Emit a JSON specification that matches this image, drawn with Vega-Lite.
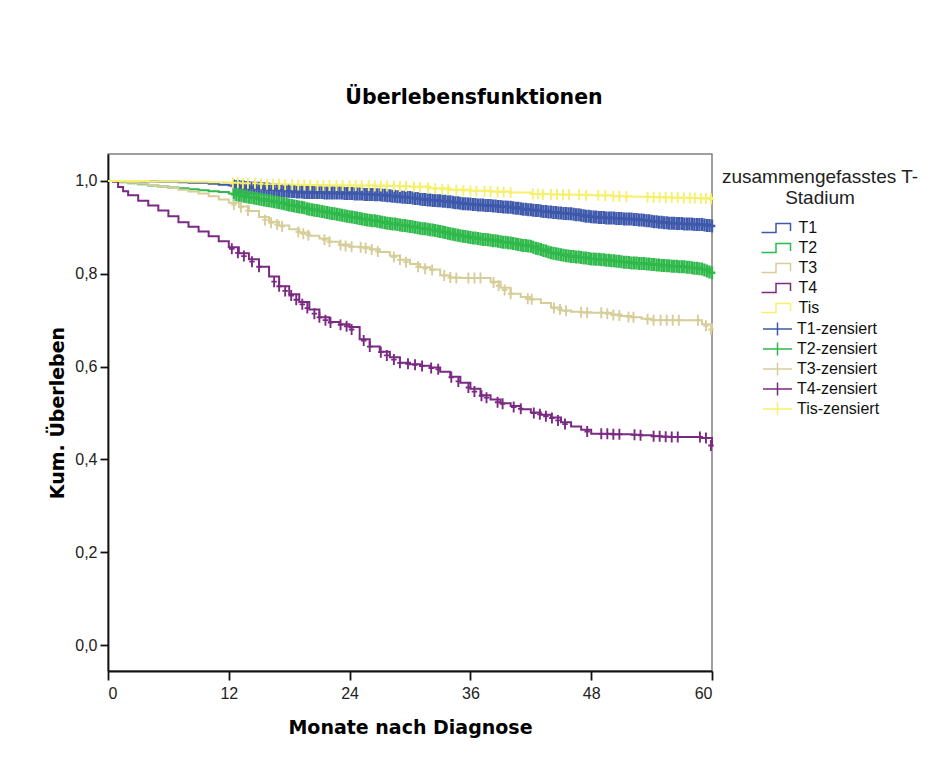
{
"$schema": "https://vega.github.io/schema/vega-lite/v6.json",
"width": 604,
"height": 517,
"autosize": {"type": "none"},
"padding": {"left": 108, "top": 154, "right": 224, "bottom": 89},
"background": "white",
"title": {"text": "Überlebensfunktionen", "font": "DejaVu Sans", "fontWeight": "bold", "fontSize": 20.5, "color": "black", "anchor": "middle", "frame": "group", "dx": 64, "offset": 30, "baseline": "alphabetic"},
"datasets": {
"curves": [
{"g":"T1","t":0,"v":1.000},{"g":"T1","t":1,"v":1.000},{"g":"T1","t":2,"v":0.999},{"g":"T1","t":3,"v":0.999},{"g":"T1","t":4,"v":0.999},{"g":"T1","t":5,"v":0.998},{"g":"T1","t":6,"v":0.998},{"g":"T1","t":7,"v":0.997},{"g":"T1","t":8,"v":0.996},{"g":"T1","t":9,"v":0.996},{"g":"T1","t":10,"v":0.994},{"g":"T1","t":11,"v":0.992},{"g":"T1","t":12,"v":0.990},{"g":"T1","t":13,"v":0.988},{"g":"T1","t":14,"v":0.986},{"g":"T1","t":15,"v":0.984},{"g":"T1","t":16,"v":0.982},{"g":"T1","t":17,"v":0.980},{"g":"T1","t":18,"v":0.978},{"g":"T1","t":19,"v":0.976},{"g":"T1","t":20,"v":0.975},{"g":"T1","t":21,"v":0.975},{"g":"T1","t":22,"v":0.974},{"g":"T1","t":23,"v":0.974},{"g":"T1","t":24,"v":0.973},{"g":"T1","t":25,"v":0.972},{"g":"T1","t":26,"v":0.971},{"g":"T1","t":27,"v":0.970},{"g":"T1","t":28,"v":0.968},{"g":"T1","t":29,"v":0.966},{"g":"T1","t":30,"v":0.964},{"g":"T1","t":31,"v":0.961},{"g":"T1","t":32,"v":0.959},{"g":"T1","t":33,"v":0.957},{"g":"T1","t":34,"v":0.955},{"g":"T1","t":35,"v":0.952},{"g":"T1","t":36,"v":0.950},{"g":"T1","t":37,"v":0.948},{"g":"T1","t":38,"v":0.947},{"g":"T1","t":39,"v":0.945},{"g":"T1","t":40,"v":0.943},{"g":"T1","t":41,"v":0.940},{"g":"T1","t":42,"v":0.938},{"g":"T1","t":43,"v":0.935},{"g":"T1","t":44,"v":0.933},{"g":"T1","t":45,"v":0.931},{"g":"T1","t":46,"v":0.929},{"g":"T1","t":47,"v":0.926},{"g":"T1","t":48,"v":0.923},{"g":"T1","t":49,"v":0.921},{"g":"T1","t":50,"v":0.920},{"g":"T1","t":51,"v":0.919},{"g":"T1","t":52,"v":0.918},{"g":"T1","t":53,"v":0.916},{"g":"T1","t":54,"v":0.913},{"g":"T1","t":55,"v":0.911},{"g":"T1","t":56,"v":0.909},{"g":"T1","t":57,"v":0.908},{"g":"T1","t":58,"v":0.907},{"g":"T1","t":59,"v":0.906},{"g":"T1","t":60,"v":0.903},
{"g":"T2","t":0,"v":1.000},{"g":"T2","t":1,"v":0.997},{"g":"T2","t":2,"v":0.995},{"g":"T2","t":3,"v":0.993},{"g":"T2","t":4,"v":0.990},{"g":"T2","t":5,"v":0.988},{"g":"T2","t":6,"v":0.986},{"g":"T2","t":7,"v":0.984},{"g":"T2","t":8,"v":0.982},{"g":"T2","t":9,"v":0.980},{"g":"T2","t":10,"v":0.978},{"g":"T2","t":11,"v":0.976},{"g":"T2","t":12,"v":0.973},{"g":"T2","t":13,"v":0.969},{"g":"T2","t":14,"v":0.965},{"g":"T2","t":15,"v":0.961},{"g":"T2","t":16,"v":0.957},{"g":"T2","t":17,"v":0.953},{"g":"T2","t":18,"v":0.948},{"g":"T2","t":19,"v":0.944},{"g":"T2","t":20,"v":0.939},{"g":"T2","t":21,"v":0.935},{"g":"T2","t":22,"v":0.931},{"g":"T2","t":23,"v":0.927},{"g":"T2","t":24,"v":0.923},{"g":"T2","t":25,"v":0.919},{"g":"T2","t":26,"v":0.915},{"g":"T2","t":27,"v":0.912},{"g":"T2","t":28,"v":0.908},{"g":"T2","t":29,"v":0.905},{"g":"T2","t":30,"v":0.902},{"g":"T2","t":31,"v":0.898},{"g":"T2","t":32,"v":0.895},{"g":"T2","t":33,"v":0.891},{"g":"T2","t":34,"v":0.886},{"g":"T2","t":35,"v":0.882},{"g":"T2","t":36,"v":0.878},{"g":"T2","t":37,"v":0.875},{"g":"T2","t":38,"v":0.872},{"g":"T2","t":39,"v":0.869},{"g":"T2","t":40,"v":0.866},{"g":"T2","t":41,"v":0.862},{"g":"T2","t":42,"v":0.859},{"g":"T2","t":43,"v":0.852},{"g":"T2","t":44,"v":0.845},{"g":"T2","t":45,"v":0.841},{"g":"T2","t":46,"v":0.837},{"g":"T2","t":47,"v":0.835},{"g":"T2","t":48,"v":0.832},{"g":"T2","t":49,"v":0.830},{"g":"T2","t":50,"v":0.828},{"g":"T2","t":51,"v":0.826},{"g":"T2","t":52,"v":0.823},{"g":"T2","t":53,"v":0.822},{"g":"T2","t":54,"v":0.820},{"g":"T2","t":55,"v":0.818},{"g":"T2","t":56,"v":0.816},{"g":"T2","t":57,"v":0.815},{"g":"T2","t":58,"v":0.813},{"g":"T2","t":59,"v":0.810},{"g":"T2","t":60,"v":0.802},
{"g":"T3","t":0,"v":1.000},{"g":"T3","t":1,"v":0.998},{"g":"T3","t":2,"v":0.996},{"g":"T3","t":3,"v":0.994},{"g":"T3","t":4,"v":0.991},{"g":"T3","t":5,"v":0.988},{"g":"T3","t":6,"v":0.985},{"g":"T3","t":7,"v":0.981},{"g":"T3","t":8,"v":0.977},{"g":"T3","t":9,"v":0.973},{"g":"T3","t":10,"v":0.967},{"g":"T3","t":11,"v":0.960},{"g":"T3","t":12,"v":0.953},{"g":"T3","t":13,"v":0.945},{"g":"T3","t":14,"v":0.935},{"g":"T3","t":15,"v":0.922},{"g":"T3","t":16,"v":0.912},{"g":"T3","t":17,"v":0.904},{"g":"T3","t":18,"v":0.896},{"g":"T3","t":19,"v":0.889},{"g":"T3","t":20,"v":0.882},{"g":"T3","t":21,"v":0.876},{"g":"T3","t":22,"v":0.869},{"g":"T3","t":23,"v":0.863},{"g":"T3","t":24,"v":0.858},{"g":"T3","t":25,"v":0.857},{"g":"T3","t":26,"v":0.853},{"g":"T3","t":27,"v":0.847},{"g":"T3","t":28,"v":0.839},{"g":"T3","t":29,"v":0.830},{"g":"T3","t":30,"v":0.821},{"g":"T3","t":31,"v":0.814},{"g":"T3","t":32,"v":0.809},{"g":"T3","t":33,"v":0.797},{"g":"T3","t":34,"v":0.792},{"g":"T3","t":35,"v":0.791},{"g":"T3","t":36,"v":0.791},{"g":"T3","t":37,"v":0.791},{"g":"T3","t":38,"v":0.783},{"g":"T3","t":39,"v":0.770},{"g":"T3","t":40,"v":0.757},{"g":"T3","t":41,"v":0.750},{"g":"T3","t":42,"v":0.745},{"g":"T3","t":43,"v":0.737},{"g":"T3","t":44,"v":0.727},{"g":"T3","t":45,"v":0.721},{"g":"T3","t":46,"v":0.718},{"g":"T3","t":47,"v":0.717},{"g":"T3","t":48,"v":0.716},{"g":"T3","t":49,"v":0.716},{"g":"T3","t":50,"v":0.712},{"g":"T3","t":51,"v":0.709},{"g":"T3","t":52,"v":0.706},{"g":"T3","t":53,"v":0.703},{"g":"T3","t":54,"v":0.700},{"g":"T3","t":55,"v":0.700},{"g":"T3","t":56,"v":0.700},{"g":"T3","t":57,"v":0.700},{"g":"T3","t":58,"v":0.700},{"g":"T3","t":59,"v":0.691},{"g":"T3","t":60,"v":0.679},
{"g":"T4","t":0,"v":1.000},{"g":"T4","t":0.5,"v":0.998},{"g":"T4","t":1,"v":0.987},{"g":"T4","t":1.5,"v":0.978},{"g":"T4","t":2,"v":0.969},{"g":"T4","t":3,"v":0.957},{"g":"T4","t":4,"v":0.947},{"g":"T4","t":5,"v":0.936},{"g":"T4","t":6,"v":0.924},{"g":"T4","t":7,"v":0.911},{"g":"T4","t":8,"v":0.901},{"g":"T4","t":9,"v":0.891},{"g":"T4","t":10,"v":0.881},{"g":"T4","t":11,"v":0.870},{"g":"T4","t":12,"v":0.857},{"g":"T4","t":13,"v":0.844},{"g":"T4","t":14,"v":0.831},{"g":"T4","t":15,"v":0.815},{"g":"T4","t":16,"v":0.794},{"g":"T4","t":17,"v":0.773},{"g":"T4","t":18,"v":0.756},{"g":"T4","t":19,"v":0.739},{"g":"T4","t":20,"v":0.723},{"g":"T4","t":21,"v":0.706},{"g":"T4","t":22,"v":0.696},{"g":"T4","t":23,"v":0.691},{"g":"T4","t":24,"v":0.685},{"g":"T4","t":25,"v":0.659},{"g":"T4","t":26,"v":0.643},{"g":"T4","t":27,"v":0.632},{"g":"T4","t":28,"v":0.620},{"g":"T4","t":29,"v":0.608},{"g":"T4","t":30,"v":0.605},{"g":"T4","t":31,"v":0.602},{"g":"T4","t":32,"v":0.598},{"g":"T4","t":33,"v":0.589},{"g":"T4","t":34,"v":0.578},{"g":"T4","t":35,"v":0.565},{"g":"T4","t":36,"v":0.552},{"g":"T4","t":37,"v":0.538},{"g":"T4","t":38,"v":0.529},{"g":"T4","t":39,"v":0.521},{"g":"T4","t":40,"v":0.515},{"g":"T4","t":41,"v":0.508},{"g":"T4","t":42,"v":0.501},{"g":"T4","t":43,"v":0.496},{"g":"T4","t":44,"v":0.490},{"g":"T4","t":45,"v":0.480},{"g":"T4","t":46,"v":0.471},{"g":"T4","t":47,"v":0.464},{"g":"T4","t":48,"v":0.455},{"g":"T4","t":49,"v":0.455},{"g":"T4","t":50,"v":0.454},{"g":"T4","t":51,"v":0.454},{"g":"T4","t":52,"v":0.453},{"g":"T4","t":53,"v":0.452},{"g":"T4","t":54,"v":0.450},{"g":"T4","t":55,"v":0.449},{"g":"T4","t":56,"v":0.448},{"g":"T4","t":57,"v":0.448},{"g":"T4","t":58,"v":0.448},{"g":"T4","t":59,"v":0.446},{"g":"T4","t":60,"v":0.427},
{"g":"Tis","t":0,"v":1.000},{"g":"Tis","t":2,"v":1.000},{"g":"Tis","t":4,"v":0.999},{"g":"Tis","t":6,"v":0.999},{"g":"Tis","t":8,"v":0.998},{"g":"Tis","t":10,"v":0.997},{"g":"Tis","t":12,"v":0.996},{"g":"Tis","t":14,"v":0.995},{"g":"Tis","t":16,"v":0.993},{"g":"Tis","t":18,"v":0.992},{"g":"Tis","t":20,"v":0.991},{"g":"Tis","t":22,"v":0.990},{"g":"Tis","t":24,"v":0.990},{"g":"Tis","t":26,"v":0.990},{"g":"Tis","t":28,"v":0.989},{"g":"Tis","t":30,"v":0.988},{"g":"Tis","t":32,"v":0.984},{"g":"Tis","t":34,"v":0.981},{"g":"Tis","t":36,"v":0.979},{"g":"Tis","t":38,"v":0.977},{"g":"Tis","t":40,"v":0.975},{"g":"Tis","t":42,"v":0.972},{"g":"Tis","t":44,"v":0.971},{"g":"Tis","t":46,"v":0.970},{"g":"Tis","t":48,"v":0.969},{"g":"Tis","t":50,"v":0.967},{"g":"Tis","t":52,"v":0.966},{"g":"Tis","t":54,"v":0.965},{"g":"Tis","t":56,"v":0.964},{"g":"Tis","t":58,"v":0.963},{"g":"Tis","t":60,"v":0.961}
],
"cens": [
{"g":"T1-zensiert","t":12.5,"v":0.989},{"g":"T1-zensiert","t":12.75,"v":0.988},{"g":"T1-zensiert","t":13,"v":0.988},{"g":"T1-zensiert","t":13.25,"v":0.987},{"g":"T1-zensiert","t":13.5,"v":0.987},{"g":"T1-zensiert","t":13.75,"v":0.986},{"g":"T1-zensiert","t":14,"v":0.986},{"g":"T1-zensiert","t":14.25,"v":0.985},{"g":"T1-zensiert","t":14.5,"v":0.985},{"g":"T1-zensiert","t":14.75,"v":0.984},{"g":"T1-zensiert","t":15,"v":0.984},{"g":"T1-zensiert","t":15.25,"v":0.983},{"g":"T1-zensiert","t":15.5,"v":0.983},{"g":"T1-zensiert","t":15.75,"v":0.982},{"g":"T1-zensiert","t":16,"v":0.982},{"g":"T1-zensiert","t":16.25,"v":0.981},{"g":"T1-zensiert","t":16.5,"v":0.981},{"g":"T1-zensiert","t":16.75,"v":0.980},{"g":"T1-zensiert","t":17,"v":0.980},{"g":"T1-zensiert","t":17.25,"v":0.979},{"g":"T1-zensiert","t":17.5,"v":0.979},{"g":"T1-zensiert","t":17.75,"v":0.978},{"g":"T1-zensiert","t":18,"v":0.978},{"g":"T1-zensiert","t":18.25,"v":0.977},{"g":"T1-zensiert","t":18.5,"v":0.977},{"g":"T1-zensiert","t":18.75,"v":0.976},{"g":"T1-zensiert","t":19,"v":0.976},{"g":"T1-zensiert","t":19.25,"v":0.976},{"g":"T1-zensiert","t":19.5,"v":0.975},{"g":"T1-zensiert","t":19.75,"v":0.975},{"g":"T1-zensiert","t":20,"v":0.975},{"g":"T1-zensiert","t":20.25,"v":0.975},{"g":"T1-zensiert","t":20.5,"v":0.975},{"g":"T1-zensiert","t":20.75,"v":0.975},{"g":"T1-zensiert","t":21,"v":0.975},{"g":"T1-zensiert","t":21.25,"v":0.975},{"g":"T1-zensiert","t":21.5,"v":0.974},{"g":"T1-zensiert","t":21.75,"v":0.974},{"g":"T1-zensiert","t":22,"v":0.974},{"g":"T1-zensiert","t":22.25,"v":0.974},{"g":"T1-zensiert","t":22.5,"v":0.974},{"g":"T1-zensiert","t":22.75,"v":0.974},{"g":"T1-zensiert","t":23,"v":0.974},{"g":"T1-zensiert","t":23.25,"v":0.974},{"g":"T1-zensiert","t":23.5,"v":0.973},{"g":"T1-zensiert","t":23.75,"v":0.973},{"g":"T1-zensiert","t":24,"v":0.973},{"g":"T1-zensiert","t":24.25,"v":0.973},{"g":"T1-zensiert","t":24.5,"v":0.972},{"g":"T1-zensiert","t":24.75,"v":0.972},{"g":"T1-zensiert","t":25,"v":0.972},{"g":"T1-zensiert","t":25.25,"v":0.972},{"g":"T1-zensiert","t":25.5,"v":0.971},{"g":"T1-zensiert","t":25.75,"v":0.971},{"g":"T1-zensiert","t":26,"v":0.971},{"g":"T1-zensiert","t":26.25,"v":0.971},{"g":"T1-zensiert","t":26.5,"v":0.970},{"g":"T1-zensiert","t":26.75,"v":0.970},{"g":"T1-zensiert","t":27,"v":0.970},{"g":"T1-zensiert","t":27.25,"v":0.969},{"g":"T1-zensiert","t":27.5,"v":0.969},{"g":"T1-zensiert","t":27.75,"v":0.968},{"g":"T1-zensiert","t":28,"v":0.968},{"g":"T1-zensiert","t":28.25,"v":0.967},{"g":"T1-zensiert","t":28.5,"v":0.967},{"g":"T1-zensiert","t":28.75,"v":0.966},{"g":"T1-zensiert","t":29,"v":0.966},{"g":"T1-zensiert","t":29.25,"v":0.965},{"g":"T1-zensiert","t":29.5,"v":0.965},{"g":"T1-zensiert","t":29.75,"v":0.964},{"g":"T1-zensiert","t":30,"v":0.964},{"g":"T1-zensiert","t":30.25,"v":0.963},{"g":"T1-zensiert","t":30.5,"v":0.962},{"g":"T1-zensiert","t":30.75,"v":0.962},{"g":"T1-zensiert","t":31,"v":0.961},{"g":"T1-zensiert","t":31.25,"v":0.960},{"g":"T1-zensiert","t":31.5,"v":0.960},{"g":"T1-zensiert","t":31.75,"v":0.959},{"g":"T1-zensiert","t":32,"v":0.959},{"g":"T1-zensiert","t":32.25,"v":0.958},{"g":"T1-zensiert","t":32.5,"v":0.958},{"g":"T1-zensiert","t":32.75,"v":0.957},{"g":"T1-zensiert","t":33,"v":0.957},{"g":"T1-zensiert","t":33.25,"v":0.956},{"g":"T1-zensiert","t":33.5,"v":0.956},{"g":"T1-zensiert","t":33.75,"v":0.955},{"g":"T1-zensiert","t":34,"v":0.955},{"g":"T1-zensiert","t":34.25,"v":0.954},{"g":"T1-zensiert","t":34.5,"v":0.953},{"g":"T1-zensiert","t":34.75,"v":0.953},{"g":"T1-zensiert","t":35,"v":0.952},{"g":"T1-zensiert","t":35.25,"v":0.951},{"g":"T1-zensiert","t":35.5,"v":0.951},{"g":"T1-zensiert","t":35.75,"v":0.950},{"g":"T1-zensiert","t":36,"v":0.950},{"g":"T1-zensiert","t":36.25,"v":0.949},{"g":"T1-zensiert","t":36.5,"v":0.949},{"g":"T1-zensiert","t":36.75,"v":0.948},{"g":"T1-zensiert","t":37,"v":0.948},{"g":"T1-zensiert","t":37.25,"v":0.948},{"g":"T1-zensiert","t":37.5,"v":0.947},{"g":"T1-zensiert","t":37.75,"v":0.947},{"g":"T1-zensiert","t":38,"v":0.947},{"g":"T1-zensiert","t":38.25,"v":0.946},{"g":"T1-zensiert","t":38.5,"v":0.946},{"g":"T1-zensiert","t":38.75,"v":0.945},{"g":"T1-zensiert","t":39,"v":0.945},{"g":"T1-zensiert","t":39.25,"v":0.944},{"g":"T1-zensiert","t":39.5,"v":0.944},{"g":"T1-zensiert","t":39.75,"v":0.943},{"g":"T1-zensiert","t":40,"v":0.943},{"g":"T1-zensiert","t":40.25,"v":0.942},{"g":"T1-zensiert","t":40.5,"v":0.941},{"g":"T1-zensiert","t":40.75,"v":0.941},{"g":"T1-zensiert","t":41,"v":0.940},{"g":"T1-zensiert","t":41.25,"v":0.939},{"g":"T1-zensiert","t":41.5,"v":0.939},{"g":"T1-zensiert","t":41.75,"v":0.938},{"g":"T1-zensiert","t":42,"v":0.938},{"g":"T1-zensiert","t":42.25,"v":0.937},{"g":"T1-zensiert","t":42.5,"v":0.936},{"g":"T1-zensiert","t":42.75,"v":0.936},{"g":"T1-zensiert","t":43,"v":0.935},{"g":"T1-zensiert","t":43.25,"v":0.934},{"g":"T1-zensiert","t":43.5,"v":0.934},{"g":"T1-zensiert","t":43.75,"v":0.933},{"g":"T1-zensiert","t":44,"v":0.933},{"g":"T1-zensiert","t":44.25,"v":0.932},{"g":"T1-zensiert","t":44.5,"v":0.932},{"g":"T1-zensiert","t":44.75,"v":0.931},{"g":"T1-zensiert","t":45,"v":0.931},{"g":"T1-zensiert","t":45.25,"v":0.930},{"g":"T1-zensiert","t":45.5,"v":0.930},{"g":"T1-zensiert","t":45.75,"v":0.929},{"g":"T1-zensiert","t":46,"v":0.929},{"g":"T1-zensiert","t":46.25,"v":0.928},{"g":"T1-zensiert","t":46.5,"v":0.927},{"g":"T1-zensiert","t":46.75,"v":0.927},{"g":"T1-zensiert","t":47,"v":0.926},{"g":"T1-zensiert","t":47.25,"v":0.925},{"g":"T1-zensiert","t":47.5,"v":0.924},{"g":"T1-zensiert","t":47.75,"v":0.924},{"g":"T1-zensiert","t":48,"v":0.923},{"g":"T1-zensiert","t":48.25,"v":0.922},{"g":"T1-zensiert","t":48.5,"v":0.922},{"g":"T1-zensiert","t":48.75,"v":0.921},{"g":"T1-zensiert","t":49,"v":0.921},{"g":"T1-zensiert","t":49.25,"v":0.921},{"g":"T1-zensiert","t":49.5,"v":0.920},{"g":"T1-zensiert","t":49.75,"v":0.920},{"g":"T1-zensiert","t":50,"v":0.920},{"g":"T1-zensiert","t":50.25,"v":0.920},{"g":"T1-zensiert","t":50.5,"v":0.919},{"g":"T1-zensiert","t":50.75,"v":0.919},{"g":"T1-zensiert","t":51,"v":0.919},{"g":"T1-zensiert","t":51.25,"v":0.918},{"g":"T1-zensiert","t":51.5,"v":0.918},{"g":"T1-zensiert","t":51.75,"v":0.918},{"g":"T1-zensiert","t":52,"v":0.918},{"g":"T1-zensiert","t":52.25,"v":0.917},{"g":"T1-zensiert","t":52.5,"v":0.917},{"g":"T1-zensiert","t":52.75,"v":0.916},{"g":"T1-zensiert","t":53,"v":0.916},{"g":"T1-zensiert","t":53.25,"v":0.915},{"g":"T1-zensiert","t":53.5,"v":0.914},{"g":"T1-zensiert","t":53.75,"v":0.914},{"g":"T1-zensiert","t":54,"v":0.913},{"g":"T1-zensiert","t":54.25,"v":0.912},{"g":"T1-zensiert","t":54.5,"v":0.912},{"g":"T1-zensiert","t":54.75,"v":0.911},{"g":"T1-zensiert","t":55,"v":0.911},{"g":"T1-zensiert","t":55.25,"v":0.910},{"g":"T1-zensiert","t":55.5,"v":0.910},{"g":"T1-zensiert","t":55.75,"v":0.909},{"g":"T1-zensiert","t":56,"v":0.909},{"g":"T1-zensiert","t":56.25,"v":0.909},{"g":"T1-zensiert","t":56.5,"v":0.908},{"g":"T1-zensiert","t":56.75,"v":0.908},{"g":"T1-zensiert","t":57,"v":0.908},{"g":"T1-zensiert","t":57.25,"v":0.907},{"g":"T1-zensiert","t":57.5,"v":0.907},{"g":"T1-zensiert","t":57.75,"v":0.907},{"g":"T1-zensiert","t":58,"v":0.907},{"g":"T1-zensiert","t":58.25,"v":0.906},{"g":"T1-zensiert","t":58.5,"v":0.906},{"g":"T1-zensiert","t":58.75,"v":0.906},{"g":"T1-zensiert","t":59,"v":0.906},{"g":"T1-zensiert","t":59.25,"v":0.905},{"g":"T1-zensiert","t":59.5,"v":0.904},{"g":"T1-zensiert","t":59.75,"v":0.904},{"g":"T1-zensiert","t":60,"v":0.903},
{"g":"T2-zensiert","t":12.5,"v":0.971},{"g":"T2-zensiert","t":12.75,"v":0.970},{"g":"T2-zensiert","t":13,"v":0.969},{"g":"T2-zensiert","t":13.25,"v":0.968},{"g":"T2-zensiert","t":13.5,"v":0.967},{"g":"T2-zensiert","t":13.75,"v":0.966},{"g":"T2-zensiert","t":14,"v":0.965},{"g":"T2-zensiert","t":14.25,"v":0.964},{"g":"T2-zensiert","t":14.5,"v":0.963},{"g":"T2-zensiert","t":14.75,"v":0.962},{"g":"T2-zensiert","t":15,"v":0.961},{"g":"T2-zensiert","t":15.25,"v":0.960},{"g":"T2-zensiert","t":15.5,"v":0.959},{"g":"T2-zensiert","t":15.75,"v":0.958},{"g":"T2-zensiert","t":16,"v":0.957},{"g":"T2-zensiert","t":16.25,"v":0.956},{"g":"T2-zensiert","t":16.5,"v":0.955},{"g":"T2-zensiert","t":16.75,"v":0.954},{"g":"T2-zensiert","t":17,"v":0.953},{"g":"T2-zensiert","t":17.25,"v":0.952},{"g":"T2-zensiert","t":17.5,"v":0.951},{"g":"T2-zensiert","t":17.75,"v":0.949},{"g":"T2-zensiert","t":18,"v":0.948},{"g":"T2-zensiert","t":18.25,"v":0.947},{"g":"T2-zensiert","t":18.5,"v":0.946},{"g":"T2-zensiert","t":18.75,"v":0.945},{"g":"T2-zensiert","t":19,"v":0.944},{"g":"T2-zensiert","t":19.25,"v":0.943},{"g":"T2-zensiert","t":19.5,"v":0.942},{"g":"T2-zensiert","t":19.75,"v":0.940},{"g":"T2-zensiert","t":20,"v":0.939},{"g":"T2-zensiert","t":20.25,"v":0.938},{"g":"T2-zensiert","t":20.5,"v":0.937},{"g":"T2-zensiert","t":20.75,"v":0.936},{"g":"T2-zensiert","t":21,"v":0.935},{"g":"T2-zensiert","t":21.25,"v":0.934},{"g":"T2-zensiert","t":21.5,"v":0.933},{"g":"T2-zensiert","t":21.75,"v":0.932},{"g":"T2-zensiert","t":22,"v":0.931},{"g":"T2-zensiert","t":22.25,"v":0.930},{"g":"T2-zensiert","t":22.5,"v":0.929},{"g":"T2-zensiert","t":22.75,"v":0.928},{"g":"T2-zensiert","t":23,"v":0.927},{"g":"T2-zensiert","t":23.25,"v":0.926},{"g":"T2-zensiert","t":23.5,"v":0.925},{"g":"T2-zensiert","t":23.75,"v":0.924},{"g":"T2-zensiert","t":24,"v":0.923},{"g":"T2-zensiert","t":24.25,"v":0.922},{"g":"T2-zensiert","t":24.5,"v":0.921},{"g":"T2-zensiert","t":24.75,"v":0.920},{"g":"T2-zensiert","t":25,"v":0.919},{"g":"T2-zensiert","t":25.25,"v":0.918},{"g":"T2-zensiert","t":25.5,"v":0.917},{"g":"T2-zensiert","t":25.75,"v":0.916},{"g":"T2-zensiert","t":26,"v":0.915},{"g":"T2-zensiert","t":26.25,"v":0.914},{"g":"T2-zensiert","t":26.5,"v":0.914},{"g":"T2-zensiert","t":26.75,"v":0.913},{"g":"T2-zensiert","t":27,"v":0.912},{"g":"T2-zensiert","t":27.25,"v":0.911},{"g":"T2-zensiert","t":27.5,"v":0.910},{"g":"T2-zensiert","t":27.75,"v":0.909},{"g":"T2-zensiert","t":28,"v":0.908},{"g":"T2-zensiert","t":28.25,"v":0.907},{"g":"T2-zensiert","t":28.5,"v":0.907},{"g":"T2-zensiert","t":28.75,"v":0.906},{"g":"T2-zensiert","t":29,"v":0.905},{"g":"T2-zensiert","t":29.25,"v":0.904},{"g":"T2-zensiert","t":29.5,"v":0.904},{"g":"T2-zensiert","t":29.75,"v":0.903},{"g":"T2-zensiert","t":30,"v":0.902},{"g":"T2-zensiert","t":30.25,"v":0.901},{"g":"T2-zensiert","t":30.5,"v":0.900},{"g":"T2-zensiert","t":30.75,"v":0.899},{"g":"T2-zensiert","t":31,"v":0.898},{"g":"T2-zensiert","t":31.25,"v":0.897},{"g":"T2-zensiert","t":31.5,"v":0.897},{"g":"T2-zensiert","t":31.75,"v":0.896},{"g":"T2-zensiert","t":32,"v":0.895},{"g":"T2-zensiert","t":32.25,"v":0.894},{"g":"T2-zensiert","t":32.5,"v":0.893},{"g":"T2-zensiert","t":32.75,"v":0.892},{"g":"T2-zensiert","t":33,"v":0.891},{"g":"T2-zensiert","t":33.25,"v":0.890},{"g":"T2-zensiert","t":33.5,"v":0.889},{"g":"T2-zensiert","t":33.75,"v":0.887},{"g":"T2-zensiert","t":34,"v":0.886},{"g":"T2-zensiert","t":34.25,"v":0.885},{"g":"T2-zensiert","t":34.5,"v":0.884},{"g":"T2-zensiert","t":34.75,"v":0.883},{"g":"T2-zensiert","t":35,"v":0.882},{"g":"T2-zensiert","t":35.25,"v":0.881},{"g":"T2-zensiert","t":35.5,"v":0.880},{"g":"T2-zensiert","t":35.75,"v":0.879},{"g":"T2-zensiert","t":36,"v":0.878},{"g":"T2-zensiert","t":36.25,"v":0.877},{"g":"T2-zensiert","t":36.5,"v":0.877},{"g":"T2-zensiert","t":36.75,"v":0.876},{"g":"T2-zensiert","t":37,"v":0.875},{"g":"T2-zensiert","t":37.25,"v":0.874},{"g":"T2-zensiert","t":37.5,"v":0.874},{"g":"T2-zensiert","t":37.75,"v":0.873},{"g":"T2-zensiert","t":38,"v":0.872},{"g":"T2-zensiert","t":38.25,"v":0.871},{"g":"T2-zensiert","t":38.5,"v":0.871},{"g":"T2-zensiert","t":38.75,"v":0.870},{"g":"T2-zensiert","t":39,"v":0.869},{"g":"T2-zensiert","t":39.25,"v":0.868},{"g":"T2-zensiert","t":39.5,"v":0.868},{"g":"T2-zensiert","t":39.75,"v":0.867},{"g":"T2-zensiert","t":40,"v":0.866},{"g":"T2-zensiert","t":40.25,"v":0.865},{"g":"T2-zensiert","t":40.5,"v":0.864},{"g":"T2-zensiert","t":40.75,"v":0.863},{"g":"T2-zensiert","t":41,"v":0.862},{"g":"T2-zensiert","t":41.25,"v":0.861},{"g":"T2-zensiert","t":41.5,"v":0.861},{"g":"T2-zensiert","t":41.75,"v":0.860},{"g":"T2-zensiert","t":42,"v":0.859},{"g":"T2-zensiert","t":42.25,"v":0.857},{"g":"T2-zensiert","t":42.5,"v":0.855},{"g":"T2-zensiert","t":42.75,"v":0.854},{"g":"T2-zensiert","t":43,"v":0.852},{"g":"T2-zensiert","t":43.25,"v":0.850},{"g":"T2-zensiert","t":43.5,"v":0.849},{"g":"T2-zensiert","t":43.75,"v":0.847},{"g":"T2-zensiert","t":44,"v":0.845},{"g":"T2-zensiert","t":44.25,"v":0.844},{"g":"T2-zensiert","t":44.5,"v":0.843},{"g":"T2-zensiert","t":44.75,"v":0.842},{"g":"T2-zensiert","t":45,"v":0.841},{"g":"T2-zensiert","t":45.25,"v":0.840},{"g":"T2-zensiert","t":45.5,"v":0.839},{"g":"T2-zensiert","t":45.75,"v":0.838},{"g":"T2-zensiert","t":46,"v":0.837},{"g":"T2-zensiert","t":46.25,"v":0.837},{"g":"T2-zensiert","t":46.5,"v":0.836},{"g":"T2-zensiert","t":46.75,"v":0.836},{"g":"T2-zensiert","t":47,"v":0.835},{"g":"T2-zensiert","t":47.25,"v":0.834},{"g":"T2-zensiert","t":47.5,"v":0.834},{"g":"T2-zensiert","t":47.75,"v":0.833},{"g":"T2-zensiert","t":48,"v":0.832},{"g":"T2-zensiert","t":48.25,"v":0.832},{"g":"T2-zensiert","t":48.5,"v":0.831},{"g":"T2-zensiert","t":48.75,"v":0.831},{"g":"T2-zensiert","t":49,"v":0.830},{"g":"T2-zensiert","t":49.25,"v":0.830},{"g":"T2-zensiert","t":49.5,"v":0.829},{"g":"T2-zensiert","t":49.75,"v":0.829},{"g":"T2-zensiert","t":50,"v":0.828},{"g":"T2-zensiert","t":50.25,"v":0.828},{"g":"T2-zensiert","t":50.5,"v":0.827},{"g":"T2-zensiert","t":50.75,"v":0.827},{"g":"T2-zensiert","t":51,"v":0.826},{"g":"T2-zensiert","t":51.25,"v":0.825},{"g":"T2-zensiert","t":51.5,"v":0.825},{"g":"T2-zensiert","t":51.75,"v":0.824},{"g":"T2-zensiert","t":52,"v":0.823},{"g":"T2-zensiert","t":52.25,"v":0.823},{"g":"T2-zensiert","t":52.5,"v":0.823},{"g":"T2-zensiert","t":52.75,"v":0.822},{"g":"T2-zensiert","t":53,"v":0.822},{"g":"T2-zensiert","t":53.25,"v":0.822},{"g":"T2-zensiert","t":53.5,"v":0.821},{"g":"T2-zensiert","t":53.75,"v":0.821},{"g":"T2-zensiert","t":54,"v":0.820},{"g":"T2-zensiert","t":54.25,"v":0.820},{"g":"T2-zensiert","t":54.5,"v":0.819},{"g":"T2-zensiert","t":54.75,"v":0.819},{"g":"T2-zensiert","t":55,"v":0.818},{"g":"T2-zensiert","t":55.25,"v":0.818},{"g":"T2-zensiert","t":55.5,"v":0.817},{"g":"T2-zensiert","t":55.75,"v":0.817},{"g":"T2-zensiert","t":56,"v":0.816},{"g":"T2-zensiert","t":56.25,"v":0.816},{"g":"T2-zensiert","t":56.5,"v":0.816},{"g":"T2-zensiert","t":56.75,"v":0.815},{"g":"T2-zensiert","t":57,"v":0.815},{"g":"T2-zensiert","t":57.25,"v":0.815},{"g":"T2-zensiert","t":57.5,"v":0.814},{"g":"T2-zensiert","t":57.75,"v":0.814},{"g":"T2-zensiert","t":58,"v":0.813},{"g":"T2-zensiert","t":58.25,"v":0.812},{"g":"T2-zensiert","t":58.5,"v":0.812},{"g":"T2-zensiert","t":58.75,"v":0.811},{"g":"T2-zensiert","t":59,"v":0.810},{"g":"T2-zensiert","t":59.25,"v":0.808},{"g":"T2-zensiert","t":59.5,"v":0.806},{"g":"T2-zensiert","t":59.75,"v":0.804},{"g":"T2-zensiert","t":60,"v":0.802},
{"g":"T3-zensiert","t":12.5,"v":0.949},{"g":"T3-zensiert","t":13.2,"v":0.943},{"g":"T3-zensiert","t":13.9,"v":0.936},{"g":"T3-zensiert","t":15.6,"v":0.916},{"g":"T3-zensiert","t":16.2,"v":0.910},{"g":"T3-zensiert","t":16.8,"v":0.906},{"g":"T3-zensiert","t":17.3,"v":0.902},{"g":"T3-zensiert","t":18.9,"v":0.890},{"g":"T3-zensiert","t":19.4,"v":0.886},{"g":"T3-zensiert","t":19.9,"v":0.883},{"g":"T3-zensiert","t":21.5,"v":0.873},{"g":"T3-zensiert","t":22.0,"v":0.869},{"g":"T3-zensiert","t":23.1,"v":0.862},{"g":"T3-zensiert","t":23.6,"v":0.860},{"g":"T3-zensiert","t":24.2,"v":0.858},{"g":"T3-zensiert","t":25.1,"v":0.857},{"g":"T3-zensiert","t":25.6,"v":0.855},{"g":"T3-zensiert","t":26.2,"v":0.852},{"g":"T3-zensiert","t":26.8,"v":0.848},{"g":"T3-zensiert","t":28.4,"v":0.836},{"g":"T3-zensiert","t":29.0,"v":0.830},{"g":"T3-zensiert","t":29.6,"v":0.825},{"g":"T3-zensiert","t":30.8,"v":0.815},{"g":"T3-zensiert","t":31.5,"v":0.811},{"g":"T3-zensiert","t":32.2,"v":0.808},{"g":"T3-zensiert","t":33.4,"v":0.796},{"g":"T3-zensiert","t":34.0,"v":0.792},{"g":"T3-zensiert","t":34.6,"v":0.791},{"g":"T3-zensiert","t":35.8,"v":0.791},{"g":"T3-zensiert","t":36.4,"v":0.791},{"g":"T3-zensiert","t":37.0,"v":0.791},{"g":"T3-zensiert","t":38.3,"v":0.781},{"g":"T3-zensiert","t":38.8,"v":0.774},{"g":"T3-zensiert","t":39.4,"v":0.765},{"g":"T3-zensiert","t":40.0,"v":0.757},{"g":"T3-zensiert","t":41.7,"v":0.746},{"g":"T3-zensiert","t":42.1,"v":0.745},{"g":"T3-zensiert","t":44.3,"v":0.726},{"g":"T3-zensiert","t":44.9,"v":0.723},{"g":"T3-zensiert","t":45.5,"v":0.720},{"g":"T3-zensiert","t":47.0,"v":0.717},{"g":"T3-zensiert","t":47.6,"v":0.716},{"g":"T3-zensiert","t":49.0,"v":0.716},{"g":"T3-zensiert","t":49.6,"v":0.714},{"g":"T3-zensiert","t":50.2,"v":0.711},{"g":"T3-zensiert","t":50.8,"v":0.710},{"g":"T3-zensiert","t":51.7,"v":0.707},{"g":"T3-zensiert","t":52.2,"v":0.706},{"g":"T3-zensiert","t":53.6,"v":0.702},{"g":"T3-zensiert","t":54.2,"v":0.700},{"g":"T3-zensiert","t":54.9,"v":0.700},{"g":"T3-zensiert","t":55.5,"v":0.700},{"g":"T3-zensiert","t":56.1,"v":0.700},{"g":"T3-zensiert","t":56.7,"v":0.700},{"g":"T3-zensiert","t":58.6,"v":0.700},{"g":"T3-zensiert","t":59.4,"v":0.688},{"g":"T3-zensiert","t":59.9,"v":0.680},
{"g":"T4-zensiert","t":12.3,"v":0.854},{"g":"T4-zensiert","t":12.9,"v":0.845},{"g":"T4-zensiert","t":13.5,"v":0.838},{"g":"T4-zensiert","t":14.3,"v":0.826},{"g":"T4-zensiert","t":15.0,"v":0.815},{"g":"T4-zensiert","t":16.5,"v":0.783},{"g":"T4-zensiert","t":17.0,"v":0.773},{"g":"T4-zensiert","t":17.6,"v":0.763},{"g":"T4-zensiert","t":18.2,"v":0.753},{"g":"T4-zensiert","t":18.7,"v":0.744},{"g":"T4-zensiert","t":19.3,"v":0.734},{"g":"T4-zensiert","t":19.8,"v":0.726},{"g":"T4-zensiert","t":20.5,"v":0.714},{"g":"T4-zensiert","t":21.0,"v":0.706},{"g":"T4-zensiert","t":21.6,"v":0.700},{"g":"T4-zensiert","t":22.1,"v":0.695},{"g":"T4-zensiert","t":23.1,"v":0.690},{"g":"T4-zensiert","t":23.7,"v":0.687},{"g":"T4-zensiert","t":24.2,"v":0.680},{"g":"T4-zensiert","t":25.4,"v":0.656},{"g":"T4-zensiert","t":26.0,"v":0.643},{"g":"T4-zensiert","t":27.1,"v":0.631},{"g":"T4-zensiert","t":27.7,"v":0.624},{"g":"T4-zensiert","t":28.4,"v":0.615},{"g":"T4-zensiert","t":29.0,"v":0.608},{"g":"T4-zensiert","t":29.8,"v":0.606},{"g":"T4-zensiert","t":30.5,"v":0.604},{"g":"T4-zensiert","t":31.2,"v":0.601},{"g":"T4-zensiert","t":32.1,"v":0.597},{"g":"T4-zensiert","t":32.8,"v":0.594},{"g":"T4-zensiert","t":34.1,"v":0.577},{"g":"T4-zensiert","t":34.8,"v":0.568},{"g":"T4-zensiert","t":35.8,"v":0.555},{"g":"T4-zensiert","t":36.4,"v":0.546},{"g":"T4-zensiert","t":37.1,"v":0.537},{"g":"T4-zensiert","t":37.6,"v":0.533},{"g":"T4-zensiert","t":38.7,"v":0.523},{"g":"T4-zensiert","t":39.2,"v":0.520},{"g":"T4-zensiert","t":40.3,"v":0.513},{"g":"T4-zensiert","t":41.0,"v":0.509},{"g":"T4-zensiert","t":42.3,"v":0.500},{"g":"T4-zensiert","t":42.9,"v":0.497},{"g":"T4-zensiert","t":43.5,"v":0.493},{"g":"T4-zensiert","t":44.1,"v":0.489},{"g":"T4-zensiert","t":44.7,"v":0.484},{"g":"T4-zensiert","t":45.4,"v":0.476},{"g":"T4-zensiert","t":47.6,"v":0.460},{"g":"T4-zensiert","t":49.0,"v":0.455},{"g":"T4-zensiert","t":49.6,"v":0.455},{"g":"T4-zensiert","t":50.2,"v":0.454},{"g":"T4-zensiert","t":50.8,"v":0.454},{"g":"T4-zensiert","t":52.3,"v":0.453},{"g":"T4-zensiert","t":52.9,"v":0.452},{"g":"T4-zensiert","t":54.2,"v":0.450},{"g":"T4-zensiert","t":54.8,"v":0.450},{"g":"T4-zensiert","t":55.4,"v":0.449},{"g":"T4-zensiert","t":56.0,"v":0.448},{"g":"T4-zensiert","t":56.6,"v":0.448},{"g":"T4-zensiert","t":58.8,"v":0.448},{"g":"T4-zensiert","t":59.4,"v":0.446},{"g":"T4-zensiert","t":59.9,"v":0.430},
{"g":"Tis-zensiert","t":12.4,"v":0.996},{"g":"Tis-zensiert","t":12.9,"v":0.996},{"g":"Tis-zensiert","t":13.4,"v":0.995},{"g":"Tis-zensiert","t":13.9,"v":0.995},{"g":"Tis-zensiert","t":14.6,"v":0.995},{"g":"Tis-zensiert","t":15.2,"v":0.994},{"g":"Tis-zensiert","t":15.8,"v":0.993},{"g":"Tis-zensiert","t":16.4,"v":0.993},{"g":"Tis-zensiert","t":17.0,"v":0.993},{"g":"Tis-zensiert","t":17.6,"v":0.992},{"g":"Tis-zensiert","t":18.3,"v":0.992},{"g":"Tis-zensiert","t":18.9,"v":0.991},{"g":"Tis-zensiert","t":19.5,"v":0.991},{"g":"Tis-zensiert","t":20.1,"v":0.991},{"g":"Tis-zensiert","t":20.8,"v":0.990},{"g":"Tis-zensiert","t":21.4,"v":0.990},{"g":"Tis-zensiert","t":22.0,"v":0.990},{"g":"Tis-zensiert","t":22.7,"v":0.990},{"g":"Tis-zensiert","t":23.3,"v":0.990},{"g":"Tis-zensiert","t":24.0,"v":0.990},{"g":"Tis-zensiert","t":24.6,"v":0.990},{"g":"Tis-zensiert","t":25.2,"v":0.990},{"g":"Tis-zensiert","t":25.9,"v":0.990},{"g":"Tis-zensiert","t":26.5,"v":0.989},{"g":"Tis-zensiert","t":27.1,"v":0.989},{"g":"Tis-zensiert","t":27.7,"v":0.989},{"g":"Tis-zensiert","t":28.4,"v":0.989},{"g":"Tis-zensiert","t":29.0,"v":0.988},{"g":"Tis-zensiert","t":29.6,"v":0.988},{"g":"Tis-zensiert","t":30.4,"v":0.987},{"g":"Tis-zensiert","t":31.0,"v":0.986},{"g":"Tis-zensiert","t":31.8,"v":0.985},{"g":"Tis-zensiert","t":32.5,"v":0.983},{"g":"Tis-zensiert","t":33.2,"v":0.982},{"g":"Tis-zensiert","t":33.8,"v":0.981},{"g":"Tis-zensiert","t":34.6,"v":0.980},{"g":"Tis-zensiert","t":35.3,"v":0.979},{"g":"Tis-zensiert","t":36.0,"v":0.979},{"g":"Tis-zensiert","t":36.6,"v":0.978},{"g":"Tis-zensiert","t":37.4,"v":0.978},{"g":"Tis-zensiert","t":38.0,"v":0.977},{"g":"Tis-zensiert","t":38.7,"v":0.976},{"g":"Tis-zensiert","t":39.3,"v":0.976},{"g":"Tis-zensiert","t":40.0,"v":0.975},{"g":"Tis-zensiert","t":42.2,"v":0.972},{"g":"Tis-zensiert","t":42.7,"v":0.972},{"g":"Tis-zensiert","t":43.2,"v":0.971},{"g":"Tis-zensiert","t":44.0,"v":0.971},{"g":"Tis-zensiert","t":44.6,"v":0.971},{"g":"Tis-zensiert","t":45.2,"v":0.970},{"g":"Tis-zensiert","t":45.8,"v":0.970},{"g":"Tis-zensiert","t":46.8,"v":0.970},{"g":"Tis-zensiert","t":47.5,"v":0.969},{"g":"Tis-zensiert","t":48.7,"v":0.969},{"g":"Tis-zensiert","t":49.4,"v":0.968},{"g":"Tis-zensiert","t":50.2,"v":0.967},{"g":"Tis-zensiert","t":50.8,"v":0.967},{"g":"Tis-zensiert","t":51.5,"v":0.966},{"g":"Tis-zensiert","t":53.6,"v":0.965},{"g":"Tis-zensiert","t":54.2,"v":0.965},{"g":"Tis-zensiert","t":54.8,"v":0.965},{"g":"Tis-zensiert","t":55.4,"v":0.964},{"g":"Tis-zensiert","t":56.0,"v":0.964},{"g":"Tis-zensiert","t":56.6,"v":0.964},{"g":"Tis-zensiert","t":57.2,"v":0.963},{"g":"Tis-zensiert","t":57.8,"v":0.963},{"g":"Tis-zensiert","t":58.3,"v":0.963},{"g":"Tis-zensiert","t":58.9,"v":0.962},{"g":"Tis-zensiert","t":59.4,"v":0.962},{"g":"Tis-zensiert","t":59.9,"v":0.961}
]
},
"layer": [
{
"data": {"name": "curves"},
"mark": {"type": "line", "interpolate": "step-after", "strokeWidth": 2},
"encoding": {
"x": {"field": "t", "type": "quantitative", "scale": {"domain": [0, 60], "nice": false, "zero": false},
"axis": {"values": [0, 12, 24, 36, 48, 60], "title": "Monate nach Diagnose", "titlePadding": 17, "labelPadding": 5, "tickSize": 9}},
"y": {"field": "v", "type": "quantitative", "scale": {"domain": [-0.056, 1.058], "nice": false, "zero": false},
"axis": {"values": [0, 0.2, 0.4, 0.6, 0.8, 1], "labelExpr": "replace(format(datum.value, '.1f'), '.', ',')", "title": "Kum. Überleben", "titlePadding": 7, "labelPadding": 3, "tickSize": 8}},
"color": {"field": "g", "type": "nominal",
"scale": {"domain": ["T1", "T2", "T3", "T4", "Tis"], "range": ["#3e58ab", "#2fb94b", "#d6cd98", "#7b2a83", "#f7f06c"]},
"legend": {"orient": "none", "legendX": 614, "legendY": 14, "title": ["zusammengefasstes T-", "Stadium"], "symbolType": "M-2.9,0.9H0V-0.9H2.9V0.6", "symbolSize": 100, "symbolStrokeWidth": 1.5, "symbolOffset": -53, "labelOffset": 14.5, "rowPadding": 4}}
}
},
{
"data": {"name": "cens"},
"transform": [{"filter": {"field": "g", "oneOf": ["T1-zensiert", "T2-zensiert"]}}],
"mark": {"type": "point", "shape": "M0,-1V1M-0.5,0H0.5", "filled": false, "size": 169, "strokeWidth": 2.4, "opacity": 1},
"encoding": {
"x": {"field": "t", "type": "quantitative"},
"y": {"field": "v", "type": "quantitative"},
"stroke": {"field": "g", "type": "nominal",
"scale": {"domain": ["T1-zensiert", "T2-zensiert", "T3-zensiert", "T4-zensiert", "Tis-zensiert"], "range": ["#3e58ab", "#2fb94b", "#d6cd98", "#7b2a83", "#f7f06c"]},
"legend": {"orient": "none", "legendX": 612, "legendY": 167, "title": null, "symbolType": "M-2.9,0H2.9M0,-1.3V1.3", "symbolSize": 100, "symbolStrokeWidth": 1.5, "symbolOffset": 49.5, "labelOffset": 11.5, "rowPadding": 0}}
}
},
{
"data": {"name": "cens"},
"transform": [{"filter": {"field": "g", "oneOf": ["T3-zensiert", "T4-zensiert", "Tis-zensiert"]}}],
"mark": {"type": "point", "shape": "M0,-1V1M-0.5,0H0.5", "filled": false, "size": 121, "strokeWidth": 1.9, "opacity": 1},
"encoding": {
"x": {"field": "t", "type": "quantitative"},
"y": {"field": "v", "type": "quantitative"},
"stroke": {"field": "g", "type": "nominal",
"scale": {"domain": ["T1-zensiert", "T2-zensiert", "T3-zensiert", "T4-zensiert", "Tis-zensiert"], "range": ["#3e58ab", "#2fb94b", "#d6cd98", "#7b2a83", "#f7f06c"]},
"legend": {"orient": "none", "legendX": 612, "legendY": 167, "title": null, "symbolType": "M-2.9,0H2.9M0,-1.3V1.3", "symbolSize": 100, "symbolStrokeWidth": 1.5, "symbolOffset": 49.5, "labelOffset": 11.5, "rowPadding": 0}}
}
}
],
"config": {
"view": {"stroke": "#808080", "strokeWidth": 1.5},
"axis": {"grid": false, "domainColor": "#111111", "domainWidth": 1.8, "tickColor": "#111111", "tickWidth": 1.8, "labelFont": "Liberation Sans", "labelFontSize": 16, "labelColor": "#222222", "titleFont": "DejaVu Sans", "titleFontWeight": "bold", "titleFontSize": 19, "titleColor": "#000000"},
"legend": {"titleFont": "Liberation Sans", "titleFontSize": 19, "titleFontWeight": "normal", "titleColor": "#222222", "titleAlign": "center", "titleAnchor": "middle", "titleLineHeight": 21, "titlePadding": 12, "titleLimit": 400, "labelFont": "Liberation Sans", "labelFontSize": 16, "labelColor": "#111111", "labelLimit": 300, "padding": 0}
}
}
